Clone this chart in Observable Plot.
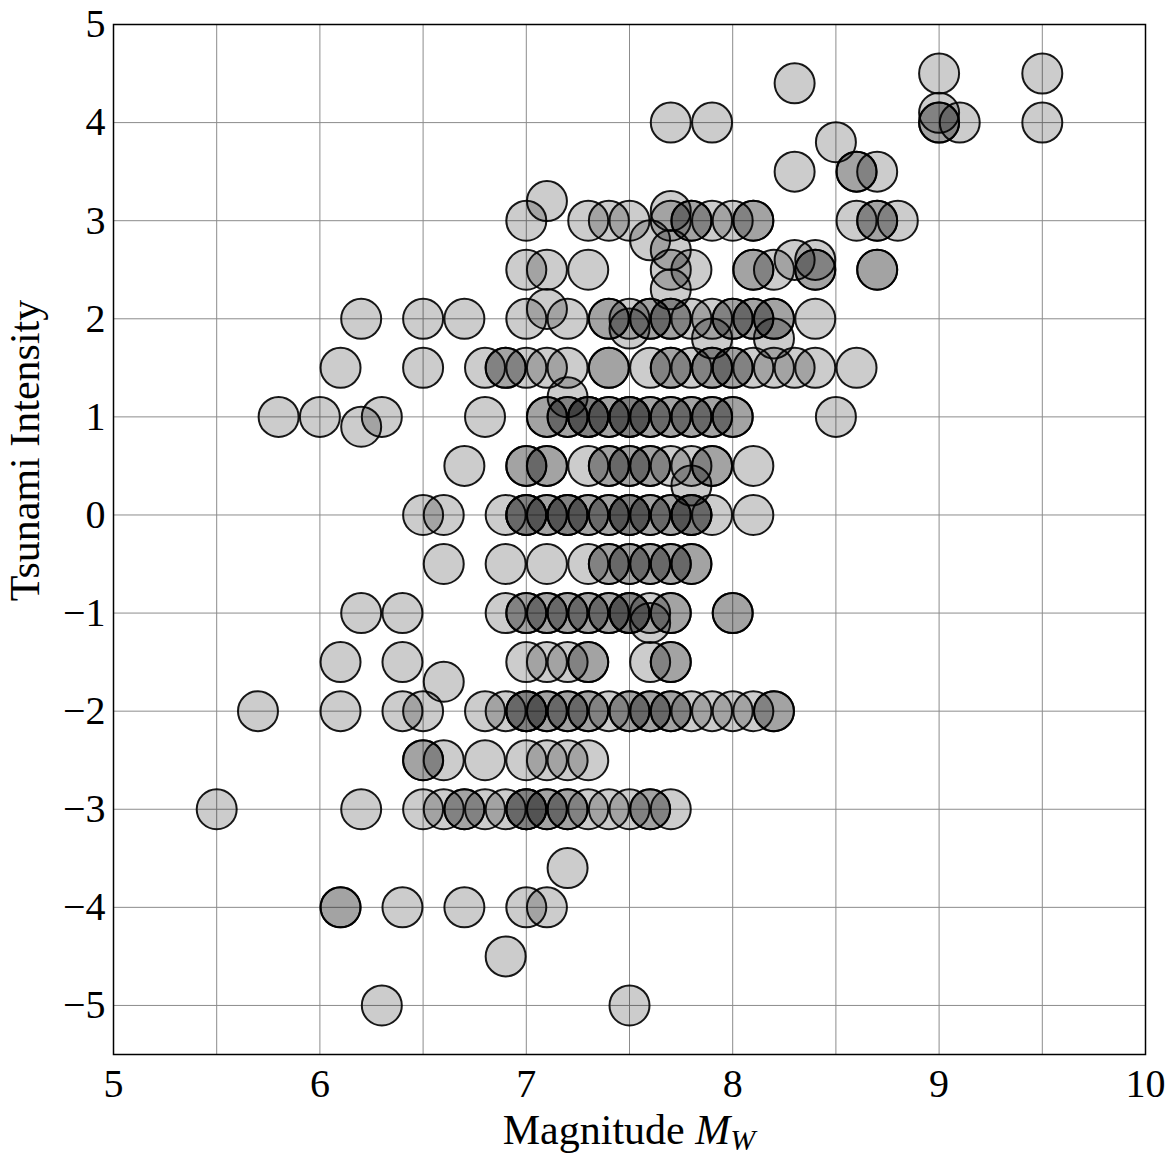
<!DOCTYPE html>
<html><head><meta charset="utf-8">
<script src="https://cdn.jsdelivr.net/npm/d3@7"></script>
<script src="https://cdn.jsdelivr.net/npm/@observablehq/plot@0.6"></script>
<style>body{margin:0;background:#fff}</style>
</head><body><div id="chart"></div>
<script>
// Each entry: magnitude, tsunami intensity, number of events at that point
const magnitude = [
  9.0, 9.5, 8.3, 9.0,
  7.7, 7.9, 9.0, 9.1, 9.5,
  8.5, 8.3, 8.6, 8.7, 7.1, 7.7,
  7.0, 7.3, 7.4, 7.5, 7.7, 7.8, 7.9, 8.0, 8.1, 8.6, 8.7, 8.8,
  7.6, 7.7, 8.3, 8.4,
  7.0, 7.1, 7.3, 7.7, 7.8, 8.1, 8.2, 8.4, 8.7,
  7.7, 7.1,
  6.2, 6.5, 6.7, 7.0, 7.2, 7.4, 7.5, 7.6, 7.7, 7.8, 7.9, 8.0, 8.1, 8.2, 8.4,
  7.5, 7.9, 8.2,
  6.1, 6.5, 6.8, 6.9, 7.0, 7.1, 7.2, 7.4, 7.6, 7.7, 7.8, 7.9, 8.0, 8.1, 8.2, 8.3, 8.4, 8.6,
  7.2,
  5.8, 6.0, 6.3, 6.8, 7.1, 7.2, 7.3, 7.4, 7.5, 7.6, 7.7, 7.8, 7.9, 8.0, 8.5,
  6.2,
  6.7, 7.0, 7.1, 7.3, 7.4, 7.5, 7.6, 7.7, 7.8, 7.9, 8.1,
  7.8,
  6.5, 6.6, 6.9, 7.0, 7.1, 7.2, 7.3, 7.4, 7.5, 7.6, 7.7, 7.8, 7.9, 8.1,
  6.6, 6.9, 7.1, 7.3, 7.4, 7.5, 7.6, 7.7, 7.8,
  6.2, 6.4, 6.9, 7.0, 7.1, 7.2, 7.3, 7.4, 7.5, 7.6, 7.7, 8.0,
  7.6,
  6.1, 6.4, 7.0, 7.1, 7.2, 7.3, 7.6, 7.7,
  6.6,
  5.7, 6.1, 6.4, 6.5, 6.8, 6.9, 7.0, 7.1, 7.2, 7.3, 7.4, 7.5, 7.6, 7.7, 7.8, 7.9, 8.0, 8.1, 8.2,
  6.5, 6.6, 6.8, 7.0, 7.1, 7.2, 7.3,
  5.5, 6.2, 6.5, 6.6, 6.7, 6.8, 6.9, 7.0, 7.1, 7.2, 7.3, 7.4, 7.5, 7.6, 7.7,
  7.2,
  6.1, 6.4, 6.7, 7.0, 7.1,
  6.9,
  6.3, 7.5
];
const intensity = [
  4.5, 4.5, 4.4, 4.1,
  4, 4, 4, 4, 4,
  3.8, 3.5, 3.5, 3.5, 3.2, 3.1,
  3, 3, 3, 3, 3, 3, 3, 3, 3, 3, 3, 3,
  2.8, 2.7, 2.6, 2.6,
  2.5, 2.5, 2.5, 2.5, 2.5, 2.5, 2.5, 2.5, 2.5,
  2.3, 2.1,
  2, 2, 2, 2, 2, 2, 2, 2, 2, 2, 2, 2, 2, 2, 2,
  1.9, 1.8, 1.8,
  1.5, 1.5, 1.5, 1.5, 1.5, 1.5, 1.5, 1.5, 1.5, 1.5, 1.5, 1.5, 1.5, 1.5, 1.5, 1.5, 1.5, 1.5,
  1.2,
  1, 1, 1, 1, 1, 1, 1, 1, 1, 1, 1, 1, 1, 1, 1,
  0.9,
  0.5, 0.5, 0.5, 0.5, 0.5, 0.5, 0.5, 0.5, 0.5, 0.5, 0.5,
  0.3,
  0, 0, 0, 0, 0, 0, 0, 0, 0, 0, 0, 0, 0, 0,
  -0.5, -0.5, -0.5, -0.5, -0.5, -0.5, -0.5, -0.5, -0.5,
  -1, -1, -1, -1, -1, -1, -1, -1, -1, -1, -1, -1,
  -1.1,
  -1.5, -1.5, -1.5, -1.5, -1.5, -1.5, -1.5, -1.5,
  -1.7,
  -2, -2, -2, -2, -2, -2, -2, -2, -2, -2, -2, -2, -2, -2, -2, -2, -2, -2, -2,
  -2.5, -2.5, -2.5, -2.5, -2.5, -2.5, -2.5,
  -3, -3, -3, -3, -3, -3, -3, -3, -3, -3, -3, -3, -3, -3, -3,
  -3.6,
  -4, -4, -4, -4, -4,
  -4.5,
  -5, -5
];
const count = [
  1, 1, 1, 1,
  1, 1, 2, 1, 1,
  1, 1, 2, 1, 1, 1,
  1, 1, 1, 1, 1, 2, 1, 1, 2, 1, 2, 1,
  1, 1, 1, 1,
  1, 1, 1, 1, 1, 2, 1, 2, 2,
  1, 1,
  1, 1, 1, 1, 1, 2, 1, 2, 2, 1, 1, 2, 2, 2, 1,
  1, 1, 1,
  1, 1, 1, 2, 1, 1, 1, 2, 1, 2, 1, 2, 2, 1, 1, 1, 1, 1,
  1,
  1, 1, 1, 1, 2, 2, 3, 2, 3, 2, 2, 2, 2, 2, 1,
  1,
  1, 2, 2, 1, 2, 2, 2, 1, 1, 2, 1,
  1,
  1, 1, 1, 3, 2, 3, 2, 2, 3, 2, 2, 3, 1, 1,
  1, 1, 1, 1, 2, 2, 2, 2, 2,
  1, 1, 1, 2, 2, 2, 2, 2, 3, 1, 2, 2,
  1,
  1, 1, 1, 1, 1, 2, 1, 2,
  1,
  1, 1, 1, 1, 1, 1, 3, 2, 2, 2, 1, 2, 2, 2, 1, 1, 1, 1, 2,
  2, 1, 1, 1, 1, 1, 1,
  1, 1, 1, 1, 2, 1, 1, 3, 2, 2, 1, 1, 1, 2, 1,
  1,
  2, 1, 1, 1, 1,
  1,
  1, 1
];
const xTicks = [5, 6, 7, 8, 9, 10];
const xGrid = [5.5, 6, 6.5, 7, 7.5, 8, 8.5, 9, 9.5];
const yTicks = [-5, -4, -3, -2, -1, 0, 1, 2, 3, 4, 5];
const xDomain = [5, 10];
const yDomain = [-5.5, 5];
const yLabel = "Tsunami Intensity";

const events = [];
magnitude.forEach((m, i) => {
  for (let k = 0; k < count[i]; k++) events.push({m, t: intensity[i]});
});

const fmt = d => String(d).replace("-", "\u2212");
const font = "'Liberation Serif', 'Times New Roman', serif";
const plot = Plot.plot({
  width: 1171, height: 1158,
  marginLeft: 113, marginRight: 26, marginTop: 24, marginBottom: 104,
  x: {domain: xDomain},
  y: {domain: yDomain},
  style: {fontFamily: font, background: "#fff", color: "#000"},
  marks: [
    Plot.gridX(xGrid, {stroke: "#8c8c8c", strokeOpacity: 1, strokeWidth: 1}),
    Plot.gridY(yTicks, {stroke: "#8c8c8c", strokeOpacity: 1, strokeWidth: 1}),
    Plot.dot(events, {x: "m", y: "t", r: 20, fill: "#000", fillOpacity: 0.2,
      stroke: "#000", strokeOpacity: 0.9, strokeWidth: 2}),
    Plot.frame({stroke: "#000", strokeWidth: 1.5}),
    Plot.axisX(xTicks, {tickSize: 0, tickPadding: 14, fontSize: 40, label: null, tickFormat: fmt}),
    Plot.axisY(yTicks, {tickSize: 0, tickPadding: 8, fontSize: 40, label: null, tickFormat: fmt}),
    Plot.text([yLabel], {frameAnchor: "left", rotate: -90, dx: -88, dy: -89, textAnchor: "middle",
      fontSize: 42, fontFamily: font})
  ]
});
document.getElementById("chart").appendChild(plot);

// x-axis label with italic M and subscript W
const xs = plot.scale("x");
const cx = (xs.range[0] + xs.range[1]) / 2;
const lbl = d3.select(plot).append("text")
  .attr("x", cx).attr("y", 1144)
  .attr("text-anchor", "middle")
  .attr("font-family", font).attr("font-size", 42).attr("fill", "#000");
lbl.append("tspan").text("Magnitude ");
lbl.append("tspan").attr("font-style", "italic").text("M");
lbl.append("tspan").attr("font-style", "italic").attr("font-size", 30).attr("dy", 6).text("W");
</script>
</body></html>
